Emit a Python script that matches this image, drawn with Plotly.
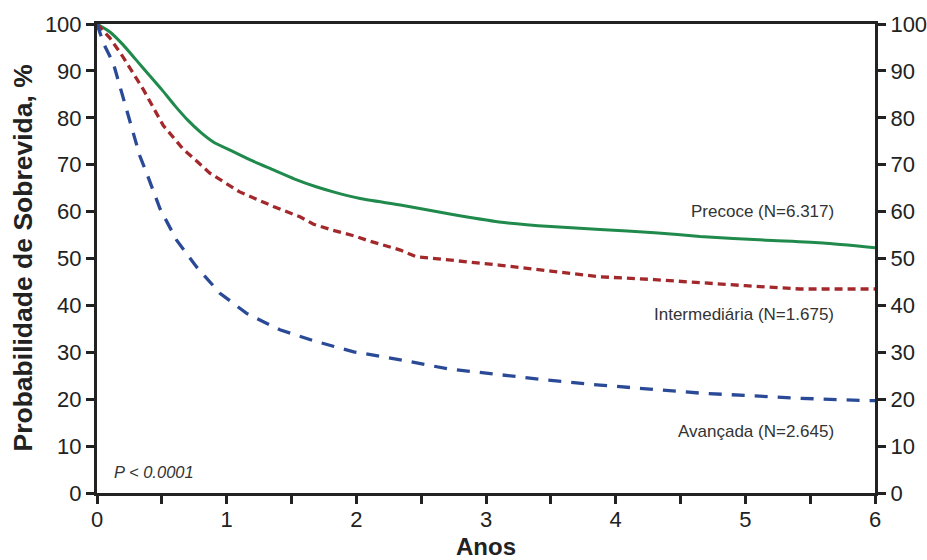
import plotly.graph_objects as go

# Data (years, survival %)
t_precoce = [0, 0.1, 0.2, 0.3, 0.4, 0.5, 0.6, 0.7, 0.8, 0.9, 1.05, 1.2, 1.36, 1.52, 1.69, 1.85, 2.03, 2.34, 2.7, 3.1, 3.5, 3.88, 4.3, 4.65, 5.16, 5.6, 6.0]
s_precoce = [100, 98.3, 95.6, 92.4, 89.2, 86.0, 82.6, 79.5, 76.9, 74.8, 72.8, 70.8, 68.9, 67.0, 65.3, 64.0, 62.8, 61.4, 59.6, 57.8, 56.8, 56.2, 55.5, 54.7, 53.9, 53.3, 52.3]

t_interm = [0, 0.1, 0.2, 0.36, 0.51, 0.59, 0.665, 0.74, 0.87, 1.1, 1.36, 1.565, 1.67, 1.82, 2.0, 2.08, 2.34, 2.46, 2.8, 3.1, 3.5, 3.88, 4.3, 4.65, 5.0, 5.42, 6.0]
s_interm = [100, 97, 93, 85.9, 78.4, 75.8, 73.3, 71.5, 68.2, 64.2, 61.1, 58.9, 57.3, 56.0, 54.7, 53.9, 51.8, 50.4, 49.5, 48.6, 47.3, 46.1, 45.5, 44.8, 44.2, 43.5, 43.5]

t_avanc = [0, 0.05, 0.126, 0.2, 0.254, 0.293, 0.33, 0.383, 0.486, 0.614, 0.768, 0.948, 1.154, 1.41, 1.69, 1.98, 2.34, 2.7, 3.1, 3.5, 3.88, 4.3, 4.65, 5.0, 5.42, 5.93, 6.0]
s_avanc = [100, 95.9, 91.6, 84.5, 79.5, 75.3, 71.9, 68.2, 60.6, 53.9, 48.2, 42.6, 38.3, 34.8, 32.3, 30.1, 28.4, 26.5, 25.2, 24.0, 23.0, 22.0, 21.3, 20.8, 20.2, 19.7, 19.7]

labels = ["Precoce (N=6.317)", "Intermediária (N=1.675)", "Avançada (N=2.645)"]
label_y = [60.1, 38.0, 13.2]

x_tickvals = [0, 0.5, 1, 1.5, 2, 2.5, 3, 3.5, 4, 4.5, 5, 5.5, 6]
x_ticktext = ["0", "", "1", "", "2", "", "3", "", "4", "", "5", "", "6"]
y_tickvals = [0, 10, 20, 30, 40, 50, 60, 70, 80, 90, 100]

GREEN = "#1f8a4c"
RED = "#a3282b"
BLUE = "#2a4a98"
AX = "#222222"
FONT = "Liberation Sans, Arial, sans-serif"

fig = go.Figure()
fig.add_trace(go.Scatter(x=t_precoce, y=s_precoce, mode="lines",
                         line=dict(color=GREEN, width=3, shape="spline", smoothing=0.5),
                         showlegend=False))
fig.add_trace(go.Scatter(x=t_interm, y=s_interm, mode="lines",
                         line=dict(color=RED, width=3.3, dash="8px,5px"), showlegend=False))
fig.add_trace(go.Scatter(x=t_avanc, y=s_avanc, mode="lines",
                         line=dict(color=BLUE, width=3.3, dash="13px,10px"), showlegend=False))
# invisible trace for right axis
fig.add_trace(go.Scatter(x=[0], y=[0], mode="markers", marker=dict(opacity=0),
                         yaxis="y2", showlegend=False, hoverinfo="skip"))

for lab, ly in zip(labels, label_y):
    fig.add_annotation(x=5.70, y=ly, text=lab, showarrow=False, xanchor="right",
                       yanchor="middle", font=dict(family=FONT, size=17, color="#333333"))

fig.add_annotation(x=0.115, y=4.5, text="<i>P < 0.0001</i>", showarrow=False,
                   xanchor="left", yanchor="middle",
                   font=dict(family=FONT, size=16.5, color="#333333"))

# axis titles
fig.add_annotation(xref="paper", yref="paper", x=0.5, y=-0.115, text="<b>Anos</b>",
                   showarrow=False, xanchor="center", yanchor="middle",
                   font=dict(family=FONT, size=24, color=AX))
fig.add_annotation(xref="paper", yref="paper", x=-0.0964, y=0.5,
                   text="<b>Probabilidade de Sobrevida, %</b>", textangle=-90,
                   showarrow=False, xanchor="center", yanchor="middle",
                   font=dict(family=FONT, size=26.5, color=AX))

axis_common = dict(showgrid=False, zeroline=False, showline=True, linecolor=AX,
                   linewidth=3, ticks="outside", ticklen=8, tickwidth=2.5, tickcolor=AX,
                   automargin=False,
                   tickfont=dict(family=FONT, size=22, color=AX))

fig.update_layout(
    width=927, height=560,
    margin=dict(l=97, r=52, t=24, b=67),
    paper_bgcolor="white", plot_bgcolor="white",
    xaxis=dict(range=[0, 6], tickvals=x_tickvals, ticktext=x_ticktext,
               mirror=True, ticklabelstandoff=-3, **axis_common),
    yaxis=dict(range=[0, 100], tickvals=y_tickvals, **axis_common),
    yaxis2=dict(range=[0, 100], tickvals=y_tickvals, overlaying="y", side="right",
                **axis_common),
)

# remove the default page margin so the figure fills the window exactly
fig.write_html("out.html",
               config={"displayModeBar": False},
               post_script="document.body.style.margin='0';document.body.style.overflow='hidden';")
